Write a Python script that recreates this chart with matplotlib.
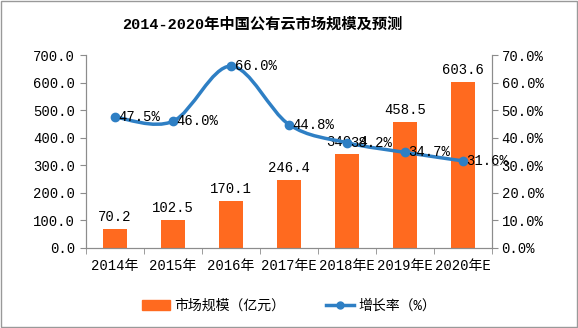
import matplotlib
matplotlib.use("Agg")
import matplotlib.pyplot as plt
import numpy as np
from matplotlib.path import Path
from matplotlib.patches import PathPatch, Patch
from matplotlib.lines import Line2D

plt.rcParams["font.family"] = ["Liberation Mono", "Noto Sans CJK SC"]

years = ["2014年", "2015年", "2016年", "2017年E", "2018年E", "2019年E", "2020年E"]
market = [70.2, 102.5, 170.1, 246.4, 340.4, 458.5, 603.6]
growth = [47.5, 46.0, 66.0, 44.8, 38.2, 34.7, 31.6]

BAR_COLOR = "#FF6A1F"
LINE_COLOR = "#2E7FC4"
AXIS_COLOR = "#8c8c8c"


def smooth_path(xs, ys, tension=1 / 6):
    """Catmull-Rom style smoothing of the data points as cubic Bezier segments."""
    pts = np.column_stack([xs, ys]).astype(float)
    verts = [pts[0]]
    codes = [Path.MOVETO]
    n = len(pts)
    for i in range(n - 1):
        p0 = pts[i - 1] if i > 0 else pts[i]
        p1, p2 = pts[i], pts[i + 1]
        p3 = pts[i + 2] if i + 2 < n else pts[i + 1]
        c1 = p1 + (p2 - p0) * tension
        c2 = p2 - (p3 - p1) * tension
        verts += [c1, c2, p2]
        codes += [Path.CURVE4] * 3
    return Path(verts, codes)


fig = plt.figure(figsize=(5.78, 3.28), dpi=100)
ax = fig.add_axes([0.149, 0.244, 0.702, 0.588])
ax2 = ax.twinx()

x = np.arange(len(years))
ax.bar(x, market, width=0.42, color=BAR_COLOR, zorder=2)
for xi, v in zip(x, market):
    ax.text(xi, v + 18, f"{v:.1f}", ha="center", va="bottom", fontsize=10)

ax.set_xlim(-0.5, len(years) - 0.5)
ax.set_ylim(0, 700)
ax.set_yticks(np.arange(0, 701, 100))
ax.set_yticklabels([f"{v:.1f}" for v in np.arange(0, 701, 100)], fontsize=10)
ax.set_xticks(x)
ax.set_xticklabels(years, fontsize=10)
ax.set_xticks(np.arange(-0.5, len(years), 1), minor=True)
ax.tick_params(axis="x", which="major", length=0, pad=8)
ax.tick_params(axis="x", which="minor", length=4, color=AXIS_COLOR)
ax.tick_params(axis="y", length=4, color=AXIS_COLOR, pad=4)

ax2.set_ylim(0, 70)
ax2.set_yticks(np.arange(0, 71, 10))
ax2.set_yticklabels([f"{v:.1f}%" for v in np.arange(0, 71, 10)], fontsize=10)
ax2.tick_params(axis="y", length=4, color=AXIS_COLOR, pad=3)

ax2.add_patch(PathPatch(smooth_path(x, growth), fill=False, edgecolor=LINE_COLOR,
                        lw=2.5, zorder=3))
ax2.plot(x, growth, "o", color=LINE_COLOR, ms=6, zorder=4)
for xi, v in zip(x, growth):
    ax2.text(xi + 0.06, v, f"{v:.1f}%", ha="left", va="center", fontsize=10, zorder=5)

for a in (ax, ax2):
    a.spines["top"].set_visible(False)
    for s in ("left", "right", "bottom"):
        a.spines[s].set_color(AXIS_COLOR)

fig.text(0.453, 0.925, "2014-2020年中国公有云市场规模及预测", ha="center", va="center",
         fontsize=11, fontweight="bold")

handles = [Patch(color=BAR_COLOR),
           Line2D([0], [0], color=LINE_COLOR, lw=2.5, marker="o", ms=5)]
fig.legend(handles, ["市场规模（亿元）", "增长率（%）"], loc="center",
           bbox_to_anchor=(0.5, 0.068), ncol=2, frameon=False, fontsize=10,
           handlelength=2.0, columnspacing=3, handletextpad=0.3)

fig.add_artist(plt.Rectangle((0.002, 0.003), 0.996, 0.994, transform=fig.transFigure,
                             fill=False, edgecolor="#999999", lw=1))

fig.savefig("out.png", dpi=100)
